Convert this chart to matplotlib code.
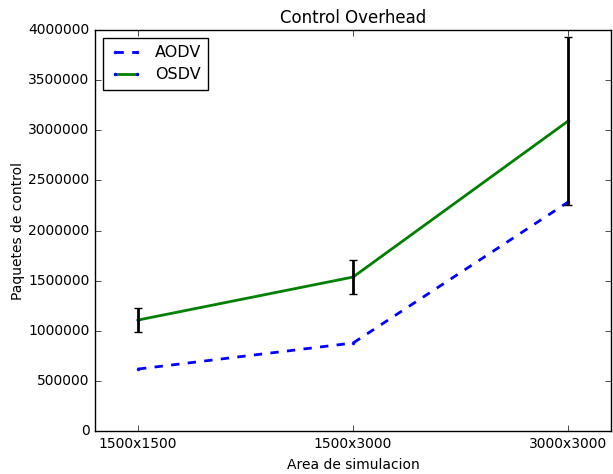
import matplotlib
matplotlib.use("Agg")
import matplotlib.pyplot as plt
import numpy as np

# Control overhead per simulation area
areas = ['1500x1500', '1500x3000', '3000x3000']
aodv = [618000, 878000, 2284000]
osdv = [1107000, 1536000, 3092000]
osdv_err = [120000, 170000, 840000]

plt.style.use('classic')
plt.rcParams['font.family'] = 'DejaVu Sans'

fig = plt.figure(figsize=(6.13, 4.74), dpi=100)
ax = fig.add_axes([0.155, 0.0907, 0.842, 0.846])

x = np.arange(len(areas))
ax.plot(x, aodv, 'b--', lw=2, marker='.', ms=4, mec='b', mfc='b', label='AODV')
ax.plot(x, osdv, 'g-', lw=2, marker='.', ms=4, mec='b', mfc='b', label='OSDV')
ax.errorbar(x, osdv, yerr=osdv_err, fmt='none', ecolor='k', elinewidth=2,
            capsize=3, capthick=1)

ax.set_xlim(-0.2, 2.2)
ax.set_ylim(0, 4000000)
ax.set_xticks(x)
ax.set_xticklabels(areas)
ax.set_yticks(np.arange(0, 4000001, 500000))
ax.yaxis.set_major_formatter(plt.FormatStrFormatter('%d'))
ax.tick_params(labelsize=10)

ax.set_title('Control Overhead', fontsize=12)
ax.set_xlabel('Area de simulacion', fontsize=10)
ax.set_ylabel('Paquetes de control', fontsize=10, labelpad=2)
ax.legend(loc='upper left', fontsize=11.5, numpoints=2, handlelength=2.0,
          handletextpad=0.8, borderpad=0.45, labelspacing=0.45)

fig.savefig('out.png', dpi=100)
